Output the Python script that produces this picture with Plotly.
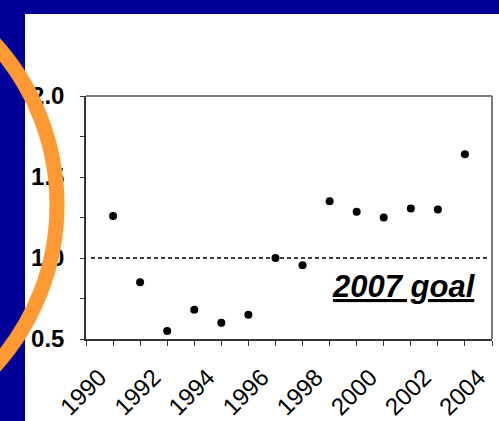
import plotly.graph_objects as go

# ---- data ----
years = [1991, 1992, 1993, 1994, 1995, 1996, 1997, 1998, 1999, 2000, 2001, 2002, 2003, 2004]
values = [1.26, 0.85, 0.55, 0.68, 0.60, 0.65, 1.00, 0.955, 1.35, 1.285, 1.25, 1.305, 1.30, 1.64]
label_years = [1990, 1992, 1994, 1996, 1998, 2000, 2002, 2004]
goal_value = 1.0
goal_text = "2007 goal"
y_ticks = [0.5, 1.0, 1.5, 2.0]

W, H = 499, 421
L, R, T, B = 86, 7, 96, 82
PW, PH = W - L - R, H - T - B


def px(xp):
    return (xp - L) / PW


def py(yp):
    return (H - B - yp) / PH


BLUE = "#000099"
ORANGE = "#FF9933"

fig = go.Figure()
fig.add_trace(go.Scatter(
    x=years, y=values, mode="markers",
    marker=dict(color="black", size=8),
    showlegend=False, hoverinfo="skip",
))

shapes = []
# white slide panel
shapes.append(dict(type="rect", xref="paper", yref="paper",
                   x0=px(25), x1=px(W + 5), y0=py(H + 5), y1=py(14),
                   fillcolor="white", line=dict(width=0), layer="below"))
# goal line
shapes.append(dict(type="line", xref="paper", yref="y",
                   x0=px(91), x1=px(489), y0=goal_value, y1=goal_value,
                   line=dict(color="black", width=1.5, dash="4px,3px")))
# top / right frame
shapes.append(dict(type="line", xref="paper", yref="paper",
                   x0=0, x1=1, y0=1, y1=1, line=dict(color="#7a7a7a", width=2)))
shapes.append(dict(type="line", xref="paper", yref="paper",
                   x0=1, x1=1, y0=0, y1=1, line=dict(color="#7a7a7a", width=2)))
# orange ring
cx, cy, r = -183, 205, 240
shapes.append(dict(type="circle", xref="paper", yref="paper",
                   x0=px(cx - r), x1=px(cx + r), y0=py(cy + r), y1=py(cy - r),
                   line=dict(color=ORANGE, width=15), fillcolor="rgba(0,0,0,0)",
                   layer="above"))

fig.update_layout(
    width=W, height=H,
    margin=dict(l=L, r=R, t=T, b=B, pad=0, autoexpand=False),
    paper_bgcolor=BLUE, plot_bgcolor="white",
    shapes=shapes,
    annotations=[dict(
        xref="paper", yref="paper", x=px(478), y=py(286),
        xanchor="right", yanchor="middle", showarrow=False,
        text="<b><i><u>" + goal_text + "</u></i></b>",
        font=dict(family="Liberation Sans, Arial", size=31, color="black"),
    )],
    xaxis=dict(
        range=[1990, 2005], showgrid=False, zeroline=False, automargin=False,
        showline=True, linecolor="#333333", linewidth=1.5,
        tickmode="array", tickvals=[y + 0.5 for y in label_years],
        ticktext=[str(y) for y in label_years], ticks="",
        tickangle=-45, ticklabelstandoff=13,
        tickfont=dict(family="Liberation Sans, Arial", size=24, color="black"),
        minor=dict(tickmode="linear", tick0=1990, dtick=1, ticks="outside",
                   ticklen=5, tickcolor="#333333", tickwidth=1, showgrid=False),
    ),
    yaxis=dict(
        range=[0.5, 2.0], showgrid=False, zeroline=False, automargin=False,
        showline=True, linecolor="#333333", linewidth=1.5,
        tickmode="array", tickvals=y_ticks,
        ticktext=[f"{v:.1f}" for v in y_ticks],
        ticks="outside", ticklen=4, tickcolor="#333333",
        ticklabelstandoff=11,
        tickfont=dict(family="Liberation Sans, Arial", size=24, color="black",
                      weight="bold"),
        minor=dict(tickmode="linear", tick0=0.5, dtick=0.25, ticks="outside",
                   ticklen=4, tickcolor="#333333", tickwidth=1, showgrid=False),
    ),
)

fig.write_html("out.html")
